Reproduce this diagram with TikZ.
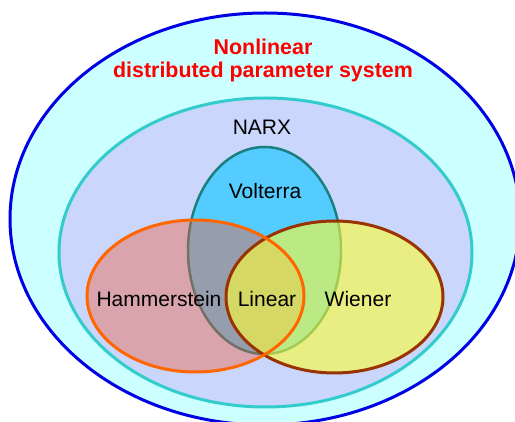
\documentclass[tikz,border=0pt]{standalone}
\usepackage{fontspec}
\setmainfont{Liberation Sans}
\definecolor{outerfill}{HTML}{CCFFFF}
\definecolor{outerline}{HTML}{0000E6}
\definecolor{narxfill}{HTML}{CAD6FB}
\definecolor{narxline}{HTML}{33CCCC}
\definecolor{volfill}{HTML}{55CCFF}
\definecolor{volline}{HTML}{1A7F7F}
\definecolor{hamfill}{HTML}{F06040}
\definecolor{hamline}{HTML}{FF6600}
\definecolor{wiefill}{HTML}{FFFF33}
\definecolor{wieline}{HTML}{993300}
\definecolor{titlered}{HTML}{FF0000}
\tikzset{
  lbl/.style={anchor=base, inner sep=0pt, font=\fontsize{21}{24}\selectfont},
  ttl/.style={anchor=base, inner sep=0pt, text=titlered, font=\fontsize{21.4}{24}\selectfont\bfseries}
}
\begin{document}
\begin{tikzpicture}[x=1pt,y=-1pt]
\useasboundingbox (0,0) rectangle (515,422);
\clip (0,0) rectangle (515,422);
\fill[white] (0,0) rectangle (515,422);
% outer
\draw[outerline, fill=outerfill, line width=3pt] (265,219) ellipse [x radius=255pt, y radius=206pt];
% NARX
\draw[narxline, fill=narxfill, line width=3pt] (265.5,252.5) ellipse [x radius=206.5pt, y radius=154.5pt];
% Volterra
\draw[volline, fill=volfill, line width=2.5pt] (264.5,250.5) ellipse [x radius=76.5pt, y radius=103.5pt];
% Hammerstein & Wiener fills
\fill[hamfill, fill opacity=0.42] (195.5,296) ellipse [x radius=108.5pt, y radius=76pt];
\fill[wiefill, fill opacity=0.6] (334.5,297) ellipse [x radius=108.5pt, y radius=76pt];
% borders
\draw[wieline, line width=3pt] (334.5,297) ellipse [x radius=108.5pt, y radius=76pt];
\draw[hamline, line width=3pt] (195.5,296) ellipse [x radius=108.5pt, y radius=76pt];
% text
\node[ttl] (t1) at (263,55) {Nonlinear};
\node[ttl] (t2) at (263,78) {distributed parameter system};
\node[lbl] (narx) at (262,135) {NARX};
\node[lbl] (vol) at (265,199) {Volterra};
\node[lbl] (ham) at (159,307) {Hammerstein};
\node[lbl] (lin) at (267,307) {Linear};
\node[lbl] (wie) at (358,307) {Wiener};
\end{tikzpicture}
\end{document}
